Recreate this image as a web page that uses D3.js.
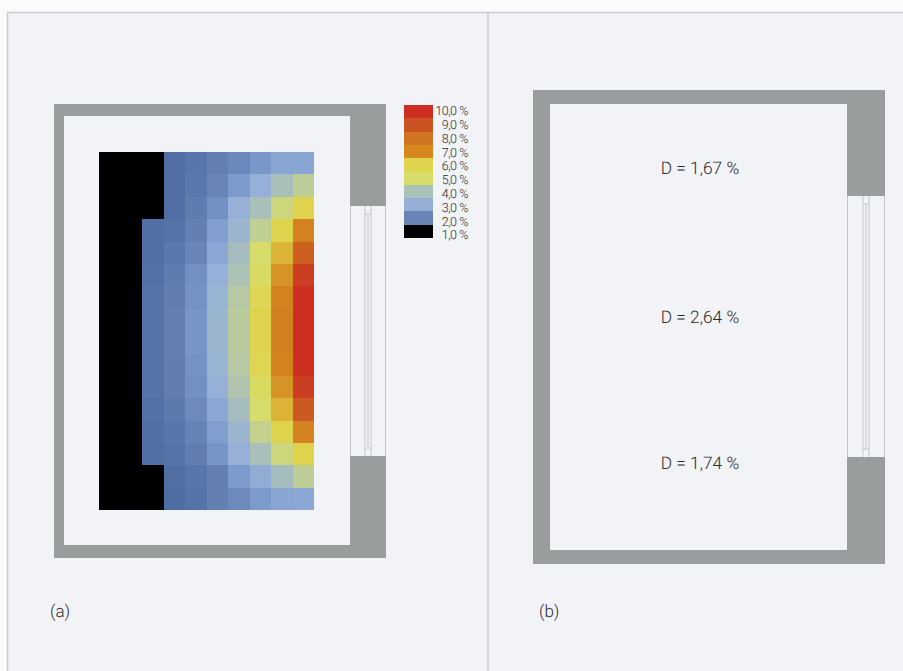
<!DOCTYPE html>
<html><head><meta charset="utf-8">
<script src="https://cdnjs.cloudflare.com/ajax/libs/d3/7.8.5/d3.min.js"></script>
<style>html,body{margin:0;padding:0;background:#fbfbfb;overflow:hidden}svg{display:block}text{font-family:Roboto,"Open Sans",sans-serif;fill:#2b2b2b;text-rendering:geometricPrecision}</style>
</head><body><svg id="c" width="903" height="671"></svg>
<script>
// daylight factor per grid cell (%); 0 = below the lowest class
const gridValues = [
 [0,0,0,1.6,1.75,2.0,2.15,2.45,2.75,2.75],
 [0,0,0,1.6,1.8,2.1,2.5,3.0,3.6,4.2],
 [0,0,0,1.6,1.9,2.3,3.0,3.6,4.7,5.8],
 [0,0,1.6,1.7,2.0,2.6,3.2,4.3,5.7,7.5],
 [0,0,1.6,1.8,2.1,2.8,3.5,5.0,6.6,8.6],
 [0,0,1.65,1.9,2.3,3.0,3.7,5.2,7.1,9.6],
 [0,0,1.7,1.95,2.35,3.1,4.0,5.5,7.5,10],
 [0,0,1.7,2.0,2.4,3.2,4.1,5.8,7.6,10],
 [0,0,1.7,2.0,2.4,3.2,4.1,5.8,7.6,10],
 [0,0,1.7,1.95,2.35,3.1,4.0,5.6,7.5,10],
 [0,0,1.7,1.95,2.3,3.0,3.8,5.2,7.1,9.6],
 [0,0,1.65,1.85,2.2,2.8,3.5,5.0,6.6,8.8],
 [0,0,1.6,1.75,2.05,2.6,3.2,4.4,5.8,7.5],
 [0,0,1.6,1.7,1.95,2.4,3.0,3.6,4.7,5.8],
 [0,0,0,1.6,1.75,2.0,2.5,2.9,3.5,4.2],
 [0,0,0,1.55,1.7,2.0,2.2,2.5,2.75,2.8]
];
const legendValues = [10,9,8,7,6,5,4,3,2,1];
const legendLabels = ["10,0 %","9,0 %","8,0 %","7,0 %","6,0 %","5,0 %","4,0 %","3,0 %","2,0 %","1,0 %"];
const legendColors = ["#cd3022","#cb5221","#cf7420","#d8871f","#dfd44e","#d7dc6a","#a9c2b8","#95afd6","#6a85b5","#000000"];
const zoneLabels = ["D = 1,67 %","D = 2,64 %","D = 1,74 %"];
const zoneY = [168,317,463];
const panelLabels = ["(a)","(b)"];

const svg = d3.select("#c");
const bg="#f2f3f6", wall="#9a9d9d", line="#c9cbcb";
svg.append("rect").attr("x",8).attr("y",13).attr("width",895).attr("height",658).attr("fill",bg);
svg.append("path").attr("d","M7.5,671V12.5H903M488,12.5V671").attr("fill","none").attr("stroke",line).attr("stroke-width",1.5);

function plan(x0,x1,y0,y1,ix0,ix1,iy0,iy1,o0,o1){
  const g=svg.append("g");
  g.append("rect").attr("x",x0).attr("y",y0).attr("width",x1-x0).attr("height",y1-y0).attr("fill",wall);
  g.append("rect").attr("x",ix0).attr("y",iy0).attr("width",ix1-ix0).attr("height",iy1-iy0).attr("fill",bg);
  g.append("rect").attr("x",ix1).attr("y",o0).attr("width",x1-ix1).attr("height",o1-o0).attr("fill",bg);
  const mid=(ix1+x1)/2;
  g.append("path").attr("fill","none").attr("stroke","#c4c6c6").attr("stroke-width",1)
   .attr("d",`M${ix1+.5},${o0}V${o1}M${x1-.5},${o0}V${o1}M${mid-3},${o0}V${o1}M${mid+3},${o0}V${o1}M${mid-3},${o0+8}H${mid+3}M${mid-3},${o1-8}H${mid+3}M${mid},${o0+8}V${o1-8}`);
}
plan(54,386,104,558,64,350,116,545,206,456);
plan(533,885,90,564,550,847,104,550,196,457);

// heat map
const xs=d3.scaleBand().domain(d3.range(gridValues[0].length)).range([99,314]);
const ys=d3.scaleBand().domain(d3.range(gridValues.length)).range([152,510]);
const color=d3.scaleLinear()
 .domain([1.5,2,2.5,3,3.5,4,5,5.7,6.2,7.3,8,9,10])
 .range(["#4c6ba1","#6480b2","#7c9acb","#96b0d8","#a6bdc0","#b6c9a4","#d7dc6a","#dfd44e","#dfcc45","#d5881f","#cf7420","#cb5221","#cd3022"])
 .clamp(true);
svg.append("g").attr("shape-rendering","crispEdges").selectAll("g").data(gridValues).join("g").each(function(row,r){
  d3.select(this).selectAll("rect").data(row).join("rect")
   .attr("x",(d,c)=>xs(c)).attr("y",ys(r))
   .attr("width",xs.bandwidth()).attr("height",ys.bandwidth())
   .attr("fill",d=>d===0?"#000":color(d));
});

// legend
const ly=d3.scaleBand().domain(legendValues).range([105,238]);
const lt=d3.scalePoint().domain(legendValues).range([110.7,235]);
const lg=svg.append("g");
lg.selectAll("rect").data(legendValues).join("rect").attr("shape-rendering","crispEdges")
 .attr("x",404).attr("width",29).attr("y",d=>ly(d)).attr("height",ly.bandwidth())
 .attr("fill",(d,i)=>legendColors[i]);
lg.selectAll("text").data(legendValues).join("text")
 .attr("x",468).attr("y",d=>lt(d)).attr("dy","0.35em").attr("text-anchor","end")
 .attr("font-size",12.5).attr("font-weight",300).attr("letter-spacing",-0.45).text((d,i)=>legendLabels[i]);

// zone labels
svg.append("g").selectAll("text").data(zoneLabels).join("text")
 .attr("x",700).attr("y",(d,i)=>zoneY[i]).attr("dy","0.35em").attr("text-anchor","middle")
 .attr("font-size",17.3).attr("font-weight",300).text(d=>d);

svg.selectAll("text.p").data(panelLabels).join("text").attr("class","p")
 .attr("x",(d,i)=>[50,539][i]).attr("y",611).attr("dy","0.35em")
 .attr("font-size",17).attr("font-weight",300).text(d=>d);
</script></body></html>
